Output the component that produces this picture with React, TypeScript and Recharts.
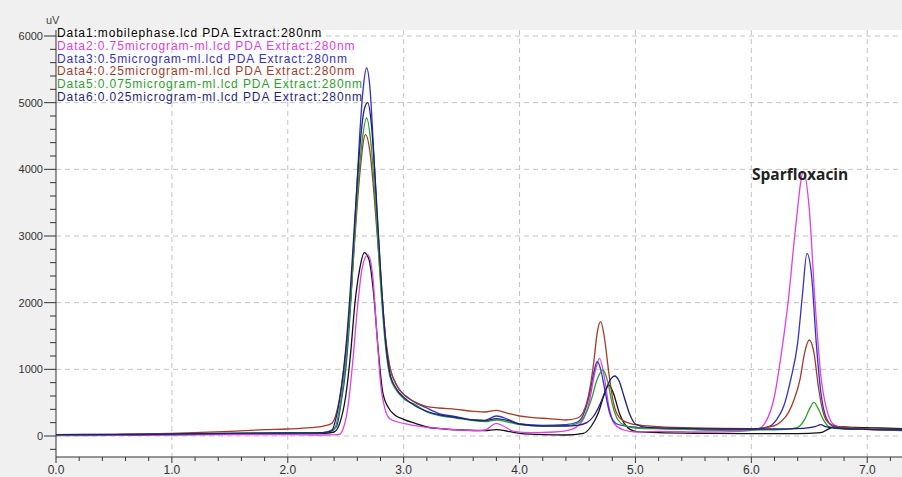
import React from 'react'
import { LineChart, Line, XAxis, YAxis, CartesianGrid } from 'recharts'

// [retention time (min), signal (uV)]
const data1: [number, number][] = [
  [0, 10], [0.5, 15], [1.0, 20], [1.5, 30], [2.0, 35], [2.3, 40], [2.4, 60], [2.45, 200],
  [2.5, 600], [2.54, 1200], [2.58, 2000], [2.62, 2500], [2.66, 2750], [2.7, 2650], [2.74, 2150],
  [2.78, 1300], [2.82, 650], [2.87, 420], [2.92, 320], [3.0, 250], [3.1, 190], [3.2, 135],
  [3.35, 105], [3.5, 90], [3.7, 80], [3.8, 95], [3.9, 70], [4.0, 40], [4.2, 20], [4.4, 15],
  [4.55, 40], [4.62, 150], [4.68, 350], [4.73, 620], [4.77, 765], [4.81, 640], [4.86, 350],
  [4.92, 150], [5.0, 70], [5.2, 50], [5.6, 40], [6.0, 35], [6.4, 35], [6.6, 50], [6.66, 100],
  [6.72, 140], [6.9, 130], [7.1, 120], [7.3, 110],
]

const data2: [number, number][] = [
  [0, 5], [0.5, 10], [1.0, 15], [1.5, 20], [2.0, 20], [2.3, 15], [2.44, 20], [2.48, 120],
  [2.52, 450], [2.56, 1100], [2.6, 1900], [2.64, 2500], [2.69, 2720], [2.73, 2450], [2.77, 1500],
  [2.8, 800], [2.84, 400], [2.88, 260], [2.95, 210], [3.05, 170], [3.2, 130], [3.4, 100],
  [3.6, 80], [3.7, 90], [3.8, 190], [3.86, 150], [3.95, 70], [4.1, 50], [4.3, 60], [4.45, 100],
  [4.55, 250], [4.6, 500], [4.65, 950], [4.69, 1165], [4.73, 900], [4.77, 450], [4.82, 180],
  [4.9, 90], [5.0, 60], [5.2, 70], [5.6, 60], [5.9, 70], [6.05, 100], [6.12, 200], [6.2, 600],
  [6.26, 1250], [6.32, 2050], [6.38, 3100], [6.45, 3965], [6.5, 3400], [6.55, 2000], [6.6, 900],
  [6.65, 400], [6.72, 160], [6.85, 110], [7.0, 100], [7.3, 90],
]

const data3: [number, number][] = [
  [0, 20], [0.5, 25], [1.0, 30], [1.5, 40], [2.0, 45], [2.3, 50], [2.42, 140], [2.46, 500],
  [2.5, 1000], [2.54, 1900], [2.58, 3200], [2.62, 4500], [2.65, 5200], [2.68, 5520], [2.71, 5200],
  [2.74, 4300], [2.77, 3300], [2.81, 2200], [2.86, 1200], [2.94, 760], [3.05, 560], [3.2, 420],
  [3.3, 340], [3.45, 290], [3.6, 240], [3.7, 235], [3.8, 300], [3.9, 250], [4.0, 180], [4.2, 160],
  [4.4, 170], [4.5, 210], [4.55, 320], [4.6, 600], [4.64, 950], [4.67, 1115], [4.7, 1000],
  [4.74, 650], [4.78, 330], [4.84, 180], [4.95, 140], [5.1, 120], [5.5, 100], [5.8, 90], [6.0, 100],
  [6.16, 150], [6.22, 250], [6.28, 450], [6.34, 850], [6.4, 1400], [6.44, 2100], [6.48, 2740],
  [6.52, 2400], [6.56, 1400], [6.6, 650], [6.64, 300], [6.7, 150], [6.8, 110], [7.0, 100], [7.3, 80],
]

const data4: [number, number][] = [
  [0, 20], [0.5, 25], [1.0, 40], [1.5, 70], [1.8, 95], [2.0, 105], [2.2, 125], [2.3, 145],
  [2.38, 190], [2.42, 350], [2.46, 700], [2.5, 1250], [2.54, 2000], [2.58, 3000], [2.62, 3900],
  [2.67, 4520], [2.71, 4250], [2.75, 3500], [2.79, 2600], [2.83, 1700], [2.88, 1050], [2.94, 760],
  [3.0, 620], [3.1, 510], [3.2, 440], [3.3, 420], [3.45, 400], [3.6, 370], [3.7, 360], [3.8, 385],
  [3.9, 340], [4.0, 300], [4.1, 280], [4.25, 260], [4.4, 240], [4.5, 270], [4.55, 360], [4.6, 650],
  [4.64, 1100], [4.67, 1550], [4.7, 1715], [4.73, 1500], [4.77, 950], [4.81, 500], [4.86, 280],
  [4.95, 190], [5.05, 160], [5.2, 140], [5.5, 120], [6.0, 110], [6.19, 150], [6.26, 220],
  [6.32, 350], [6.37, 550], [6.42, 850], [6.46, 1250], [6.5, 1440], [6.54, 1250], [6.58, 720],
  [6.62, 350], [6.67, 190], [6.75, 140], [7.0, 110], [7.3, 100],
]

const data5: [number, number][] = [
  [0, 15], [0.5, 20], [1.0, 30], [1.5, 40], [2.0, 45], [2.3, 50], [2.4, 90], [2.44, 350],
  [2.48, 800], [2.52, 1500], [2.56, 2500], [2.6, 3600], [2.64, 4400], [2.68, 4770], [2.72, 4350],
  [2.76, 3400], [2.8, 2300], [2.84, 1400], [2.88, 900], [2.94, 680], [3.0, 560], [3.1, 470],
  [3.2, 360], [3.3, 310], [3.45, 270], [3.6, 230], [3.7, 215], [3.8, 240], [3.9, 210], [4.0, 170],
  [4.2, 150], [4.4, 155], [4.5, 190], [4.56, 300], [4.62, 550], [4.67, 850], [4.72, 990],
  [4.76, 820], [4.8, 480], [4.85, 240], [4.92, 150], [5.0, 120], [5.2, 110], [5.6, 90], [6.0, 90],
  [6.3, 100], [6.4, 130], [6.46, 250], [6.5, 400], [6.54, 505], [6.58, 400], [6.62, 250],
  [6.67, 140], [6.75, 110], [7.0, 100], [7.3, 90],
]

const data6: [number, number][] = [
  [0, 20], [0.5, 20], [1.0, 30], [1.5, 40], [2.0, 45], [2.3, 50], [2.38, 80], [2.42, 300],
  [2.46, 700], [2.5, 1300], [2.54, 2200], [2.58, 3300], [2.62, 4300], [2.66, 4900], [2.69, 5000],
  [2.72, 4700], [2.76, 3700], [2.8, 2500], [2.84, 1500], [2.88, 950], [2.94, 700], [3.0, 580],
  [3.1, 450], [3.2, 370], [3.3, 320], [3.45, 280], [3.6, 240], [3.7, 230], [3.8, 260], [3.9, 230],
  [4.0, 180], [4.2, 150], [4.4, 150], [4.5, 160], [4.58, 200], [4.64, 300], [4.7, 500],
  [4.75, 720], [4.79, 860], [4.82, 900], [4.86, 820], [4.9, 600], [4.95, 330], [5.0, 180],
  [5.1, 130], [5.4, 115], [5.8, 105], [6.2, 105], [6.45, 115], [6.55, 140], [6.6, 170],
  [6.64, 140], [6.72, 120], [7.0, 100], [7.3, 90],
]

const series = [
  { name: 'Data1:mobilephase.lcd PDA Extract:280nm', color: '#111111', text: '#000000', points: data1 },
  { name: 'Data2:0.75microgram-ml.lcd PDA Extract:280nm', color: '#e040e0', text: '#e040e0', points: data2 },
  { name: 'Data3:0.5microgram-ml.lcd PDA Extract:280nm', color: '#3232c4', text: '#3232c4', points: data3 },
  { name: 'Data4:0.25microgram-ml.lcd PDA Extract:280nm', color: '#a33b2b', text: '#a33b2b', points: data4 },
  { name: 'Data5:0.075microgram-ml.lcd PDA Extract:280nm', color: '#2e9e2e', text: '#2e9e2e', points: data5 },
  { name: 'Data6:0.025microgram-ml.lcd PDA Extract:280nm', color: '#1f1f7a', text: '#1f1f7a', points: data6 },
]

const xMajor = [0, 1, 2, 3, 4, 5, 6, 7]
const yMajor = [0, 1000, 2000, 3000, 4000, 5000, 6000]
const xTicks = Array.from({ length: 37 }, (_, i) => (i * 2) / 10)
const yTicks = Array.from({ length: 32 }, (_, i) => -200 + i * 200)

const AXIS = '#333333'

const XTick = (props: any) => {
  const { x, y, payload } = props
  const v = payload.value
  const major = Math.abs(v - Math.round(v)) < 1e-6
  return (
    <g>
      <line x1={x} x2={x} y1={y} y2={y + (major ? 6 : 4)} stroke={AXIS} />
      {major && (
        <text x={x} y={y + 17} textAnchor="middle" fontSize={12} fill={AXIS}>
          {v.toFixed(1)}
        </text>
      )}
    </g>
  )
}

const YTick = (props: any) => {
  const { x, y, payload } = props
  const v = payload.value
  const major = v % 1000 === 0
  return (
    <g>
      <line x1={x - (major ? 12 : 6)} x2={x} y1={y} y2={y} stroke={AXIS} />
      {major && (
        <text x={x - 13} y={y + 4} textAnchor="end" fontSize={11} fill={AXIS}>
          {v}
        </text>
      )}
    </g>
  )
}

export default function App() {
  return (
    <div
      style={{
        position: 'absolute',
        left: 0,
        top: 0,
        width: 902,
        height: 477,
        background: '#f0f0f0',
        fontFamily: 'Arial, "Liberation Sans", sans-serif',
        overflow: 'hidden',
      }}
    >
      <LineChart width={902} height={477} margin={{ top: 30, right: 0, bottom: 0, left: 0 }}>
        <CartesianGrid
          fill="#ffffff"
          stroke="#c4c4c4"
          strokeDasharray="5 4"
          horizontalValues={yMajor}
          verticalValues={xMajor.slice(1)}
        />
        <XAxis
          type="number"
          dataKey="t"
          domain={[0, 7.3]}
          ticks={xTicks}
          interval={0}
          allowDataOverflow
          tick={<XTick />}
          tickLine={false}
          tickSize={0}
          tickMargin={0}
          height={20}
          axisLine={{ stroke: AXIS }}
        />
        <YAxis
          type="number"
          domain={[-315, 6090]}
          ticks={yTicks}
          interval={0}
          allowDataOverflow
          tick={<YTick />}
          tickLine={false}
          tickSize={0}
          tickMargin={0}
          width={56}
          axisLine={{ stroke: AXIS }}
        />
        {series.map(s => (
          <Line
            key={s.name}
            data={s.points.map(([t, v]) => ({ t, v }))}
            dataKey="v"
            name={s.name}
            type="monotone"
            stroke={s.color}
            strokeWidth={1.3}
            dot={false}
            isAnimationActive={false}
          />
        ))}
      </LineChart>
      <div style={{ position: 'absolute', left: 46, top: 14, fontSize: 11, color: '#444' }}>uV</div>
      <div style={{ position: 'absolute', left: 57, top: 27, fontSize: 12, lineHeight: '12.8px', letterSpacing: 0.9 }}>
        {series.map(s => (
          <div key={s.name} style={{ color: s.text, whiteSpace: 'nowrap' }}>
            {s.name}
          </div>
        ))}
      </div>
      <div
        style={{
          position: 'absolute',
          left: 752,
          top: 163,
          fontFamily: '"Open Sans", sans-serif',
          fontWeight: 700,
          fontSize: 15.5,
          color: '#222',
        }}
      >
        Sparfloxacin
      </div>
    </div>
  )
}
